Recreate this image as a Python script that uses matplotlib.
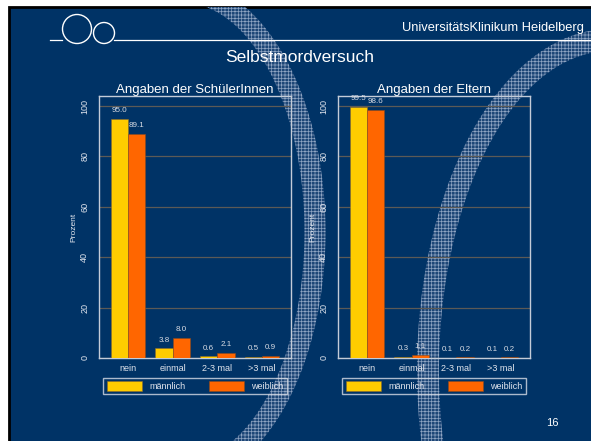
import matplotlib.pyplot as plt
import matplotlib.patches as mpatches
import numpy as np

# data
kategorien = ["nein", "einmal", "2-3 mal", ">3 mal"]
schueler_m = [95.0, 3.8, 0.6, 0.5]
schueler_w = [89.1, 8.0, 2.1, 0.9]
eltern_m = [99.5, 0.3, 0.1, 0.1]
eltern_w = [98.6, 1.1, 0.2, 0.2]
yticks = [0, 20, 40, 60, 80, 100]

BG = "#003366"
GELB = "#FFCC00"
ORANGE = "#FF6600"
TXT = "#e2e6ee"

plt.rcParams["font.family"] = ["Liberation Sans", "DejaVu Sans"]
plt.rcParams["hatch.linewidth"] = 0.5

fig = plt.figure(figsize=(5.91, 4.41), dpi=100, facecolor="white")

# slide background in pixel coords
bg = fig.add_axes([0, 0, 1, 1], zorder=0)
bg.set_xlim(0, 591)
bg.set_ylim(441, 0)
bg.axis("off")
slide = mpatches.Rectangle((8.5, 7), 600, 450, facecolor=BG, edgecolor="black", lw=2)
bg.add_patch(slide)


def band(cx, cy, a, b, w, t0, t1):
    t = np.linspace(t0, t1, 200)
    xo = cx + (a + w) * np.cos(t)
    yo = cy + (b + w) * np.sin(t)
    xi = cx + (a - w) * np.cos(t[::-1])
    yi = cy + (b - w) * np.sin(t[::-1])
    poly = mpatches.Polygon(np.column_stack([np.r_[xo, xi], np.r_[yo, yi]]),
                            closed=True, facecolor="#1d4676", edgecolor="#8ea4c2",
                            hatch="+++++", lw=0)
    bg.add_patch(poly)
    poly.set_clip_path(slide)


# decorative hatched arcs
band(182, 232, 133, 240, 10.5, -np.pi / 2, np.pi / 2)
band(610, 370, 182, 330, 11, np.pi / 2, 3 * np.pi / 2)

# header logo + line
bg.add_patch(mpatches.Circle((77, 29), 14.5, fill=False, edgecolor="white", lw=1))
bg.add_patch(mpatches.Circle((104, 33), 10.5, fill=False, edgecolor="white", lw=1))
bg.plot([50, 62], [40, 40], color="white", lw=0.9)
bg.plot([114, 591], [40, 40], color="white", lw=0.9)
bg.text(584, 28, "UniversitätsKlinikum Heidelberg", color="white", fontsize=9.3,
        ha="right", va="center")
bg.text(300, 57, "Selbstmordversuch", color="white", fontsize=12.5, ha="center", va="center")
bg.text(552, 423, "16", color="white", fontsize=8, ha="center", va="center")


def chart(rect, m, w, titel):
    ax = fig.add_axes(rect, zorder=2)
    ax.set_facecolor("none")
    x = np.arange(len(kategorien))
    bw = 0.39
    b1 = ax.bar(x - bw / 2, m, bw, color=GELB, edgecolor="#8a6a30", lw=0.4, label="männlich", zorder=3)
    b2 = ax.bar(x + bw / 2, w, bw, color=ORANGE, edgecolor="#8a4a20", lw=0.4, label="weiblich", zorder=3)
    for bars, vals in ((b1, m), (b2, w)):
        for r, v in zip(bars, vals):
            ax.annotate(f"{v:.1f}", (r.get_x() + r.get_width() / 2, v), xytext=(0, 3.5),
                        textcoords="offset points", ha="center", va="bottom",
                        fontsize=5.8, color="#d8dce4")
    ax.set_xlim(-0.65, 3.65)
    ax.set_ylim(0, 104)
    ax.set_yticks(yticks)
    ax.set_yticklabels([str(v) for v in yticks], rotation=90, va="center")
    ax.set_xticks(x)
    ax.set_xticklabels(kategorien)
    ax.tick_params(length=0, labelsize=6.5, labelcolor=TXT)
    ax.tick_params(axis="y", pad=7)
    ax.tick_params(axis="x", pad=4)
    ax.yaxis.grid(True, color="#5c5a56", lw=0.9)
    ax.set_axisbelow(True)
    for s in ax.spines.values():
        s.set_color("#c4ccd8")
        s.set_linewidth(1)
    ax.set_ylabel("Prozent", fontsize=6, color=TXT, labelpad=2)
    ax.set_title(titel, color="white", fontsize=9.5, pad=2)
    leg = ax.legend(loc="upper center", bbox_to_anchor=(0.5, -0.076), ncol=2,
                    fontsize=6.5, frameon=True, fancybox=False, borderaxespad=0,
                    handlelength=3.9, handleheight=1.3, handletextpad=0.8,
                    columnspacing=2.6, borderpad=0.35)
    leg.get_frame().set_facecolor("none")
    leg.get_frame().set_edgecolor("#d8dde6")
    leg.get_frame().set_linewidth(1)
    for t in leg.get_texts():
        t.set_color(TXT)
    return ax


chart([99 / 591, 1 - 358 / 441, 192 / 591, 262 / 441], schueler_m, schueler_w, "Angaben der SchülerInnen")
chart([338 / 591, 1 - 358 / 441, 192 / 591, 262 / 441], eltern_m, eltern_w, "Angaben der Eltern")

fig.savefig("out.png", dpi=100, facecolor="white")
